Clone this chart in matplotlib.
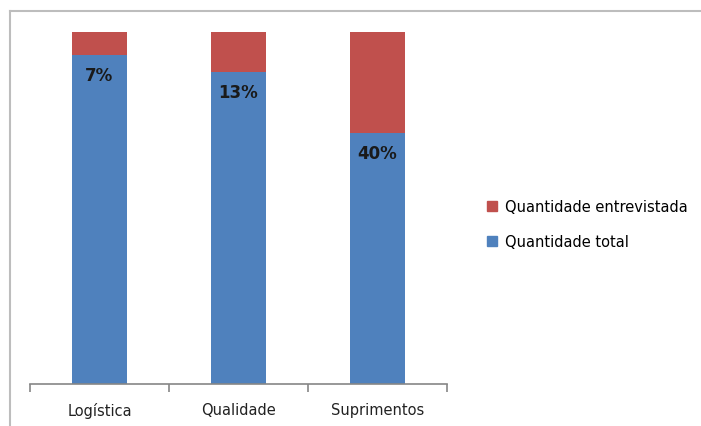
import matplotlib
matplotlib.use('Agg')
import matplotlib.pyplot as plt
from matplotlib.lines import Line2D
from matplotlib.patches import Patch
import numpy as np

categories = ['Logística', 'Qualidade', 'Suprimentos']
total = [100, 100, 100]          # Quantidade total (base)
entrevistada = [7, 13, 40]       # Quantidade entrevistada, % of total
labels = ['7%', '13%', '40%']

blue = '#4F81BD'
red = '#C0504D'

tot = np.array(total, dtype=float)
ent = np.array(entrevistada, dtype=float)
# 100% stacked columns
share_tot = tot / (tot + ent)
share_ent = ent / (tot + ent)

fig = plt.figure(figsize=(7.01, 4.27), dpi=100)
ax = fig.add_axes([30 / 701, 1 - 385 / 427, 417 / 701, 352 / 427])

x = np.arange(len(categories))
ax.bar(x, share_tot, width=0.4, color=blue, label='Quantidade total')
ax.bar(x, share_ent, width=0.4, bottom=share_tot, color=red, label='Quantidade entrevistada')

for i, lab in enumerate(labels):
    ax.annotate(lab, (x[i], share_tot[i]), xytext=(0, -20), textcoords='offset pixels',
                ha='center', va='center', fontsize=12, fontweight='bold', color='#1a1a1a')

ax.set_xlim(-0.5, 2.5)
ax.set_ylim(0, 1)
for s in ['top', 'right', 'left']:
    ax.spines[s].set_visible(False)
ax.spines['bottom'].set_color('#868686')
ax.spines['bottom'].set_linewidth(1.2)
ax.set_yticks([])
ax.set_xticks([-0.5, 0.5, 1.5, 2.5])
ax.set_xticklabels([])
ax.tick_params(axis='x', which='major', length=6, width=1.2, color='#868686', direction='out')
ax.set_xticks(x, minor=True)
ax.set_xticklabels(categories, minor=True, fontsize=10.5, color='#222222')
ax.tick_params(axis='x', which='minor', length=0, pad=13)

handles = [Patch(color=red, label='Quantidade entrevistada'),
           Patch(color=blue, label='Quantidade total')]
fig.legend(handles=handles, loc='center left', bbox_to_anchor=(474 / 701, 1 - 225 / 427),
           frameon=False, fontsize=10.5, handlelength=0.7, handleheight=0.7,
           handletextpad=0.5, labelspacing=1.35)

# worksheet frame edges
fig.add_artist(Line2D([10 / 701, 10 / 701], [0, 1 - 12 / 427], color='#BDBDBD', lw=1.5))
fig.add_artist(Line2D([10 / 701, 1], [1 - 12 / 427, 1 - 12 / 427], color='#BDBDBD', lw=1.5))

fig.savefig('out.png', dpi=100)
